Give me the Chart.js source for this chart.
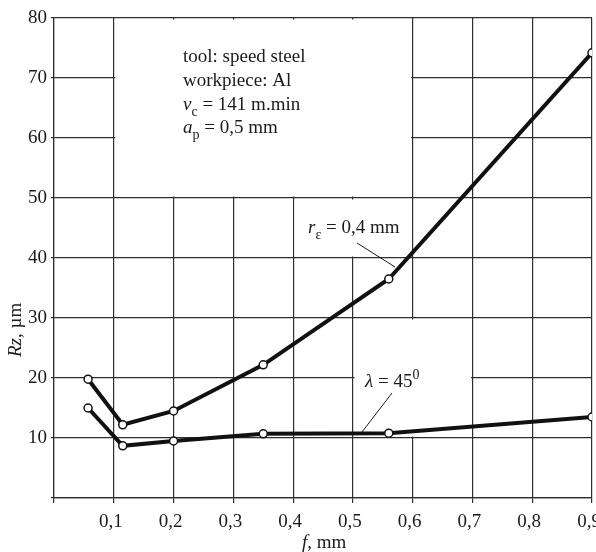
<!DOCTYPE html>
<html>
<head>
<meta charset="utf-8">
<script src="https://cdn.jsdelivr.net/npm/chart.js@4.4.1/dist/chart.umd.min.js"></script>
<style>
  html, body { margin: 0; padding: 0; background: #fff; }
  canvas { display: block; }
</style>
</head>
<body>
<canvas id="rzChart" width="596" height="552"></canvas>
<script>
// feed f, mm
const feeds = [0.057, 0.115, 0.2, 0.35, 0.56, 0.9];
// Rz, µm for nose radius 0.4 mm and for lambda = 45°
const rzNoseRadius = [19.8, 12.2, 14.5, 22.2, 36.5, 74.2];
const rzLambda = [15.0, 8.7, 9.5, 10.7, 10.8, 13.5];
const xTicks = [0, 0.1, 0.2, 0.3, 0.4, 0.5, 0.6, 0.7, 0.8, 0.9];
const yTicks = [0, 10, 20, 30, 40, 50, 60, 70, 80];

const SERIF = "'Liberation Serif', 'DejaVu Serif', serif";
const INK = '#1a1a1a';
const GRID = '#2e2e2e';

// areas of the grid kept empty for the notes: [f0, f1, rz0, rz1]
const blankAreas = [
  [0.1, 0.6, 50, 80],
  [0.4, 0.6, 40, 50],
  [0.5, 0.7, 10, 30]
];

function toPoints(ys) {
  return feeds.map((f, i) => ({ x: f, y: ys[i] }));
}

// draws a run of text pieces, some italic or set as sub/superscripts
function drawRich(ctx, x, y, parts, size) {
  let cx = x;
  parts.forEach(p => {
    const s = p.sub || p.sup ? Math.round(size * 0.75) : size;
    ctx.font = (p.italic ? 'italic ' : '') + s + 'px ' + SERIF;
    let dy = 0;
    if (p.sub) dy = size * 0.3;
    if (p.sup) dy = -size * 0.42;
    ctx.fillText(p.t, cx, y + dy);
    cx += ctx.measureText(p.t).width;
  });
  return cx - x;
}

// no extra room for the outer tick labels, the plot runs to the canvas edge
function noLabelPadding(s) {
  s.paddingLeft = 0;
  s.paddingRight = 0;
  s.paddingTop = 0;
  s.paddingBottom = 0;
}

const gridBlanks = {
  id: 'gridBlanks',
  beforeDatasetsDraw(chart) {
    const { ctx, scales: { x, y } } = chart;
    ctx.save();
    ctx.fillStyle = '#fff';
    blankAreas.forEach(([f0, f1, r0, r1]) => {
      const l = x.getPixelForValue(f0) + 1.5;
      const r = x.getPixelForValue(f1) - 1.5;
      const t = y.getPixelForValue(r1) + 1.5;
      const b = y.getPixelForValue(r0) - 1.5;
      ctx.fillRect(l, t, r - l, b - t);
    });
    ctx.restore();
  }
};

const notes = {
  id: 'notes',
  afterDraw(chart) {
    const { ctx } = chart;
    const size = 19;
    ctx.save();
    ctx.fillStyle = INK;
    ctx.strokeStyle = INK;
    ctx.textBaseline = 'alphabetic';
    ctx.textAlign = 'left';

    // cutting conditions
    drawRich(ctx, 183, 62, [{ t: 'tool: speed steel' }], size);
    drawRich(ctx, 183, 86, [{ t: 'workpiece: Al' }], size);
    drawRich(ctx, 183, 110, [{ t: 'v', italic: true }, { t: 'c', sub: true }, { t: ' = 141 m.min' }], size);
    drawRich(ctx, 183, 133, [{ t: 'a', italic: true }, { t: 'p', sub: true }, { t: ' = 0,5 mm' }], size);

    // curve labels with leader lines
    drawRich(ctx, 308, 233, [{ t: 'r', italic: true }, { t: 'ε', sub: true }, { t: ' = 0,4 mm' }], size);
    drawRich(ctx, 365, 387, [{ t: 'λ', italic: true }, { t: ' = 45' }, { t: '0', sup: true }], size);
    ctx.lineWidth = 1;
    ctx.beginPath();
    ctx.moveTo(357, 243); ctx.lineTo(395, 267);
    ctx.moveTo(392, 393); ctx.lineTo(362, 432);
    ctx.stroke();

    // axis titles
    drawRich(ctx, 302, 548, [{ t: 'f', italic: true }, { t: ', mm' }], size);
    ctx.translate(21, 357);
    ctx.rotate(-Math.PI / 2);
    drawRich(ctx, 0, 0, [{ t: 'Rz', italic: true }, { t: ', µm' }], size);
    ctx.restore();
  }
};

const lineStyle = {
  borderColor: '#111',
  borderWidth: 4,
  pointRadius: 4,
  pointBackgroundColor: '#fff',
  pointBorderColor: '#111',
  pointBorderWidth: 1.5,
  tension: 0,
  fill: false
};

new Chart(document.getElementById('rzChart').getContext('2d'), {
  type: 'line',
  data: {
    datasets: [
      Object.assign({ label: 'rε = 0,4 mm', data: toPoints(rzNoseRadius) }, lineStyle),
      Object.assign({ label: 'λ = 45°', data: toPoints(rzLambda) }, lineStyle)
    ]
  },
  options: {
    responsive: false,
    animation: false,
    events: [],
    layout: { autoPadding: false, padding: { top: 18, right: 4, left: 0, bottom: 0 } },
    plugins: { legend: { display: false }, tooltip: { enabled: false } },
    scales: {
      x: {
        type: 'linear',
        min: 0,
        max: 0.9,
        afterBuildTicks: s => { s.ticks = xTicks.map(v => ({ value: v })); },
        afterFit: s => { s.height = 54; noLabelPadding(s); },
        grid: { color: GRID, lineWidth: 1.2, tickLength: 5, drawTicks: true },
        border: { color: GRID, width: 1.2 },
        ticks: {
          autoSkip: false,
          maxRotation: 0,
          padding: 8,
          labelOffset: -3,
          color: INK,
          font: { family: SERIF, size: 19 },
          callback: v => (v === 0 ? '' : v.toFixed(1).replace('.', ','))
        }
      },
      y: {
        min: 0,
        max: 80,
        afterBuildTicks: s => { s.ticks = yTicks.map(v => ({ value: v })); },
        afterFit: s => { s.width = 54; noLabelPadding(s); },
        grid: { color: GRID, lineWidth: 1.2, tickLength: 3, drawTicks: true },
        border: { color: GRID, width: 1.2 },
        ticks: {
          padding: 4,
          color: INK,
          font: { family: SERIF, size: 19 },
          callback: v => (v === 0 ? '' : String(v))
        }
      }
    }
  },
  plugins: [gridBlanks, notes]
});
</script>
</body>
</html>
